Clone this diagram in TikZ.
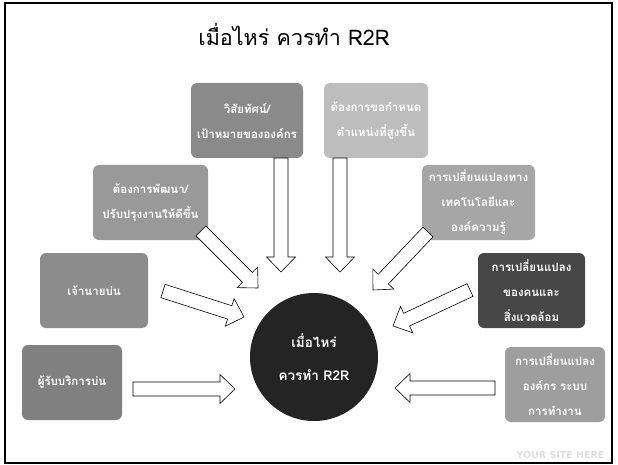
\documentclass[tikz,border=0pt]{standalone}
\usepackage{fontspec}
\newfontfamily\thaifont[Script=Thai]{Loma}
\newfontfamily\sitefont{DejaVu Sans}
\usetikzlibrary{calc}

% block arrow from tail #1 to tip #2
\newcommand\fatarrow[2]{%
    \coordinate (h) at ($(#2)!15pt!(#1)$);
    \draw [bigarrow] ($(#1)!7pt!90:(#2)$) -- ($(h)!7pt!90:(#2)$)
        -- ($(h)!14.5pt!90:(#2)$) -- (#2) -- ($(h)!14.5pt!-90:(#2)$)
        -- ($(h)!7pt!-90:(#2)$) -- ($(#1)!7pt!-90:(#2)$) -- cycle;
}

\begin{document}
\begin{tikzpicture}[x=1pt, y=-1pt]

    \tikzset{%
    cause/.style={
        rounded corners=6pt,
        fill=#1,
        text=white,
        minimum height=75pt,
        align=center,
        inner sep=2pt,
        font=\thaifont\bfseries\fontsize{11.5}{25}\selectfont
        },
    bigarrow/.style={
        draw=black,
        fill=white,
        line width=0.6pt,
        line join=miter
        },
    }

    \useasboundingbox (0,0) rectangle (618,465);
    \draw [line width=2pt] (5,3) rectangle (612,463);

    % Title
    \node (title) at (294,35) {\thaifont\fontsize{21.5}{26}\selectfont เมื่อไหร่ ควรทำ R2R};

    % Centre circle
    \node [circle, fill=black!86, text=white, minimum size=128pt, align=center,
        font=\thaifont\bfseries\fontsize{13.5}{33}\selectfont] (core) at (314,357)
        {เมื่อไหร่\\ควรทำ R2R};

    % Boxes round the circle
    \node [cause=black!46, minimum width=112pt] (vision) at (247,120.5)
        {วิสัยทัศน์/\\เป้าหมายขององค์กร};
    \node [cause=black!26, minimum width=104pt] (position) at (376,120.5)
        {ต้องการขอกำหนด\\ตำแหน่งที่สูงขึ้น};
    \node [cause=black!40, minimum width=115pt] (develop) at (150.5,202.5)
        {ต้องการพัฒนา/\\ปรับปรุงงานให้ดีขึ้น};
    \node [cause=black!35, minimum width=113pt] (tech) at (478.5,202.5)
        {การเปลี่ยนแปลงทาง\\เทคโนโลยีและ\\องค์ความรู้};
    \node [cause=black!45, minimum width=108pt] (boss) at (94,290.5)
        {เจ้านายบ่น};
    \node [cause=black!72, minimum width=107pt] (people) at (531.5,290.5)
        {การเปลี่ยนแปลง\\ของคนและ\\สิ่งแวดล้อม};
    \node [cause=black!50, minimum width=100pt] (customer) at (72,382.5)
        {ผู้รับบริการบ่น};
    \node [cause=black!38, minimum width=100pt] (org) at (555,384.5)
        {การเปลี่ยนแปลง\\องค์กร ระบบ\\การทำงาน};

    % Arrow ends
    \coordinate (vision-t) at (281,158);   \coordinate (vision-h) at (281,272);
    \coordinate (position-t) at (340,158); \coordinate (position-h) at (340,272);
    \coordinate (develop-t) at (201,231);  \coordinate (develop-h) at (258,288);
    \coordinate (tech-t) at (428,232);     \coordinate (tech-h) at (373,290);
    \coordinate (boss-t) at (163,291);     \coordinate (boss-h) at (244,317);
    \coordinate (people-t) at (470,290);   \coordinate (people-h) at (393,326);
    \coordinate (customer-t) at (133,389); \coordinate (customer-h) at (235,389);
    \coordinate (org-t) at (495,388);      \coordinate (org-h) at (395,388);

    % Block arrows into the circle
    \foreach \m in {vision,position,develop,tech,boss,people,customer,org}
    \fatarrow{\m-t}{\m-h};

    % Footer
    \node [anchor=base east, text=black!13, font=\sitefont\bfseries\fontsize{9.5}{10}\selectfont]
        (site) at (608,458) {YOUR SITE HERE};

\end{tikzpicture}
\end{document}
